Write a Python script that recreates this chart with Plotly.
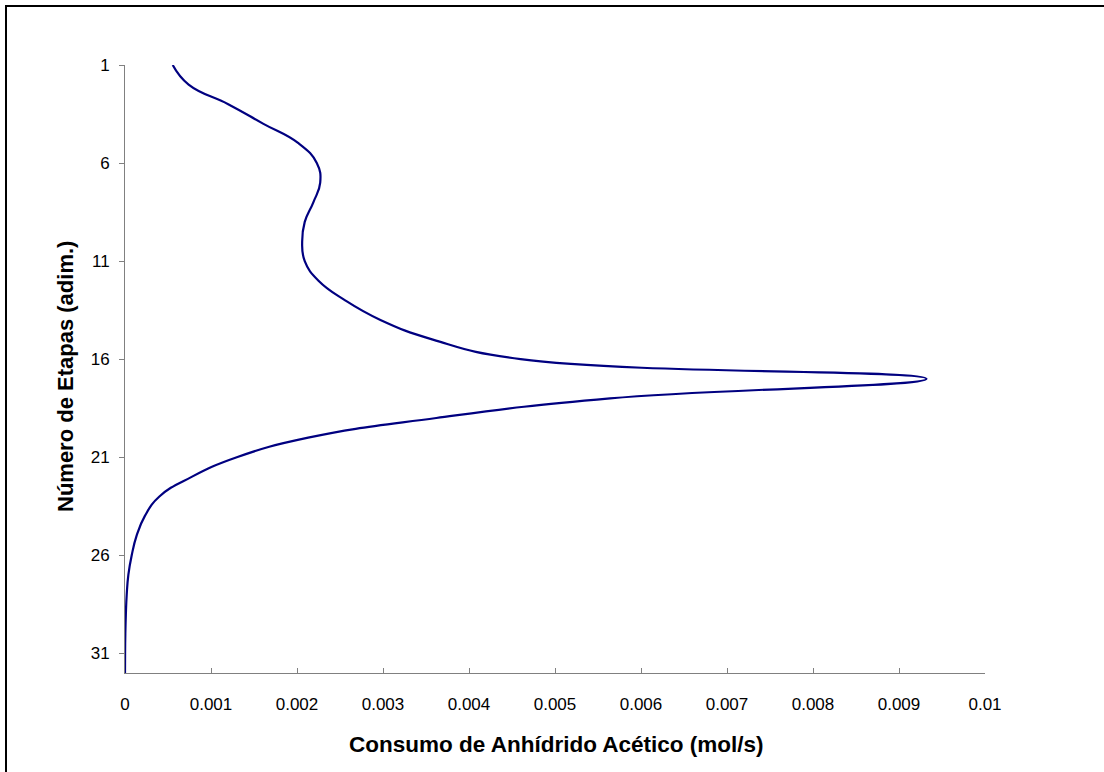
import plotly.graph_objects as go

etapas = list(range(1, 33))
consumo = [0.000555, 0.00074, 0.00120, 0.00161, 0.00202, 0.00223, 0.00227, 0.00219,
           0.00209, 0.00206, 0.00209, 0.00225, 0.00256, 0.00297, 0.00358, 0.00460,
           0.00932, 0.00564, 0.00362, 0.00213, 0.00130, 0.000775, 0.00040, 0.00023,
           0.000135, 0.000078, 0.000039, 0.00002, 0.00001, 0.000004, 0.000001, 0.0]

x_ticks = [0, 0.001, 0.002, 0.003, 0.004, 0.005, 0.006, 0.007, 0.008, 0.009, 0.01]
x_labels = ["0", "0.001", "0.002", "0.003", "0.004", "0.005", "0.006", "0.007", "0.008", "0.009", "0.01"]
y_ticks = [1, 6, 11, 16, 21, 26, 31]

fig = go.Figure()
fig.add_trace(go.Scatter(x=consumo, y=etapas, mode="lines",
                         line=dict(color="#000080", width=2.2, shape="spline", smoothing=1.3),
                         showlegend=False, hoverinfo="skip"))

font = "Liberation Sans, Arial, sans-serif"
L, T, W, H = 125, 65, 860, 608
fig.update_layout(
    width=1104, height=772,
    margin=dict(l=L, r=1104 - L - W, t=T, b=772 - T - H),
    paper_bgcolor="white", plot_bgcolor="white",
    font=dict(family=font, size=17, color="black"),
    xaxis=dict(range=[0, 0.01], tickvals=x_ticks, ticktext=x_labels,
               showgrid=False, zeroline=False, showline=True, linecolor="#808080", linewidth=1,
               ticks="inside", ticklen=5, tickcolor="#808080", ticklabelstandoff=16,
               tickfont=dict(size=17)),
    yaxis=dict(range=[32, 1], tickvals=y_ticks, ticktext=[str(v) for v in y_ticks],
               showgrid=False, zeroline=False, showline=True, linecolor="#808080", linewidth=1,
               ticks="outside", ticklen=5, tickcolor="#808080", ticklabelstandoff=6,
               tickfont=dict(size=17)),
    annotations=[
        dict(text="<b>Consumo de Anhídrido Acético (mol/s)</b>", xref="paper", yref="paper",
             x=(556 - L) / W, y=(T + H - 744) / H, xanchor="center", yanchor="middle",
             showarrow=False, font=dict(size=22.5)),
        dict(text="<b>Número de Etapas (adim.)</b>", xref="paper", yref="paper",
             x=(66 - L) / W, y=(T + H - 377) / H, xanchor="center", yanchor="middle",
             textangle=-90, showarrow=False, font=dict(size=22)),
    ],
    shapes=[dict(type="rect", xref="paper", yref="paper",
                 x0=(6 - L) / W, x1=1.5,
                 y0=-0.5, y1=(T + H - 6) / H,
                 line=dict(color="black", width=2), fillcolor="rgba(0,0,0,0)", layer="below")],
)

fig.write_html("out.html")
